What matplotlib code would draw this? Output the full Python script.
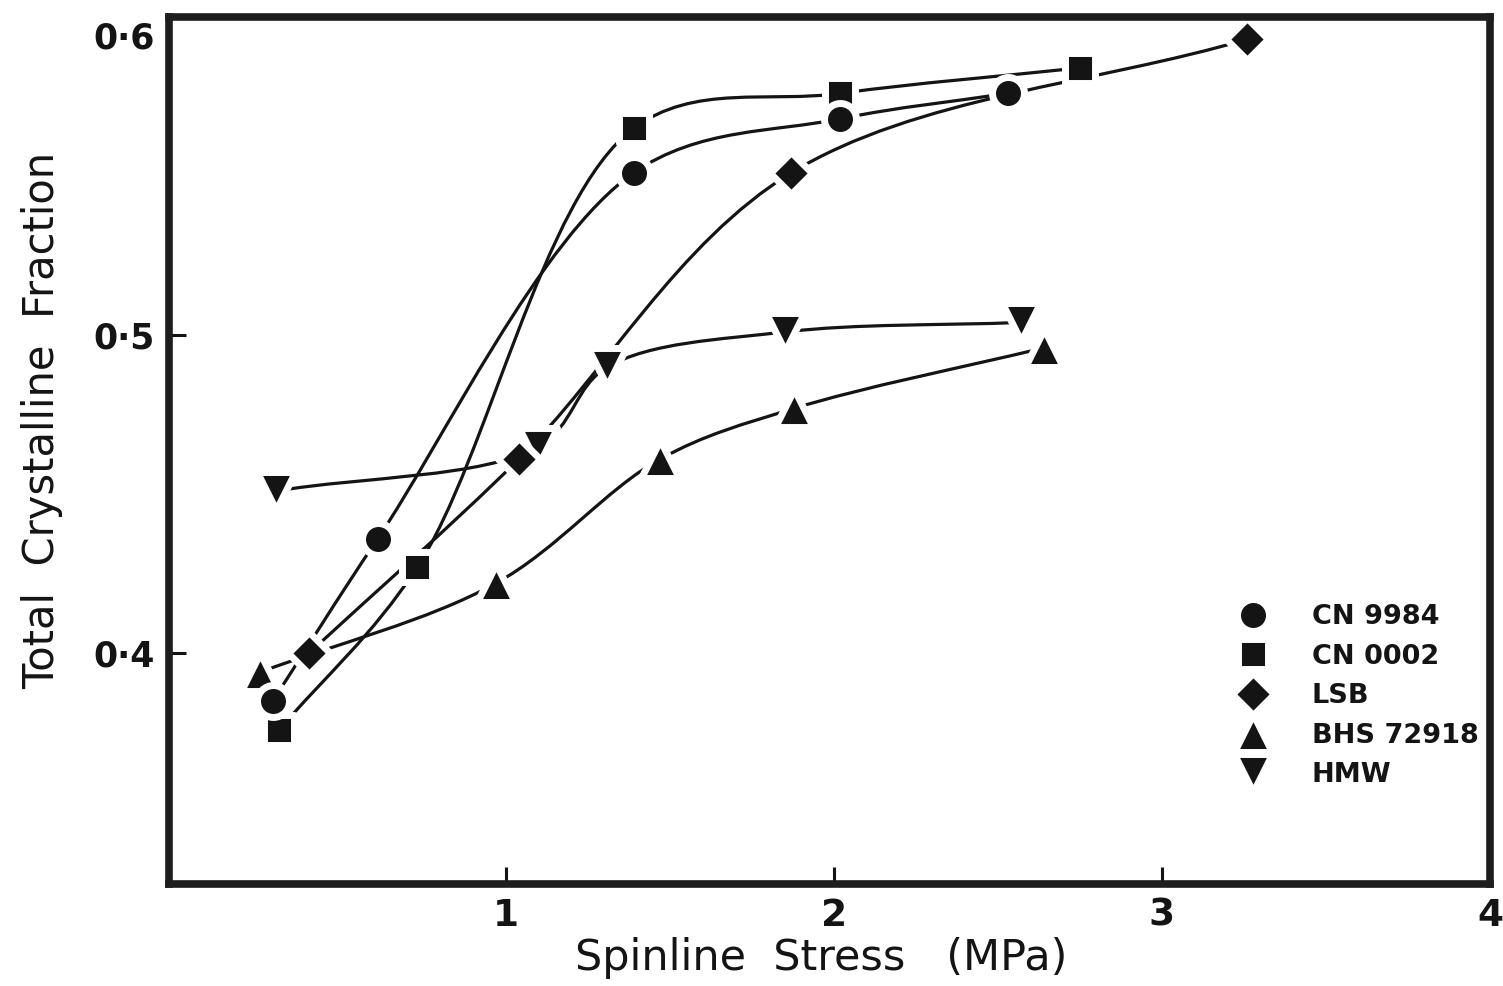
import matplotlib
matplotlib.use("Agg")
import matplotlib.pyplot as plt
import numpy as np
from matplotlib.markers import MarkerStyle
from matplotlib.path import Path
from matplotlib.patches import PathPatch
from matplotlib.transforms import ScaledTranslation

# values
cn9984_x = [0.29, 0.61, 1.39, 2.02, 2.53]
cn9984_y = [0.385, 0.436, 0.551, 0.568, 0.576]
cn0002_x = [0.31, 0.73, 1.39, 2.02, 2.75]
cn0002_y = [0.376, 0.427, 0.565, 0.576, 0.584]
lsb_x = [0.40, 1.04, 1.87, 3.26]
lsb_y = [0.400, 0.461, 0.551, 0.593]
bhs_x = [0.25, 0.97, 1.47, 1.88, 2.64]
bhs_y = [0.394, 0.422, 0.461, 0.477, 0.496]
hmw_x = [0.30, 1.10, 1.31, 1.85, 2.57]
hmw_y = [0.451, 0.465, 0.490, 0.501, 0.504]

names = ["CN 9984", "CN 0002", "LSB", "BHS 72918", "HMW"]
xticks = [1, 2, 3, 4]
yticks = [0.4, 0.5, 0.6]
ytick_labels = ["0\u00b74", "0\u00b75", "0\u00b76"]

ink = "#141414"

fig = plt.figure(figsize=(15.03, 9.86), dpi=100)
ax = fig.add_axes([169 / 1503, 1 - 884 / 986, (1490 - 169) / 1503, (884 - 17) / 986])
ax.set_xlim(-0.026, 4.0)
ax.set_ylim(0.3275, 0.600)


def smooth(ax, xs, ys, alpha=0.5):
    # centripetal catmull-rom through the points, done in pixel space
    pts = ax.transData.transform(np.column_stack([xs, ys]))
    p = np.vstack([2 * pts[0] - pts[1], pts, 2 * pts[-1] - pts[-2]])
    verts = [pts[0]]
    codes = [Path.MOVETO]
    for i in range(1, len(p) - 2):
        p0, p1, p2, p3 = p[i - 1], p[i], p[i + 1], p[i + 2]
        d1 = np.linalg.norm(p1 - p0) ** alpha
        d2 = np.linalg.norm(p2 - p1) ** alpha
        d3 = np.linalg.norm(p3 - p2) ** alpha
        b1 = (d1**2 * p2 - d2**2 * p0 + (2 * d1**2 + 3 * d1 * d2 + d2**2) * p1) / (3 * d1 * (d1 + d2))
        b2 = (d3**2 * p1 - d2**2 * p3 + (2 * d3**2 + 3 * d3 * d2 + d2**2) * p2) / (3 * d3 * (d3 + d2))
        verts += [b1, b2, p2]
        codes += [Path.CURVE4] * 3
    verts = ax.transData.inverted().transform(np.array(verts))
    return Path(verts, codes)


# marker, size in points (the white rim eats into it), drawing order
series = [
    (cn9984_x, cn9984_y, "o", 23.0, 3.5),
    (cn0002_x, cn0002_y, "s", 21.6, 3.4),
    (lsb_x, lsb_y, "D", 21.8, 3.3),
    (bhs_x, bhs_y, "^", 27.0, 3.2),
    (hmw_x, hmw_y, "v", 27.0, 3.1),
]

handles = []
for (xs, ys, m, ms, z), name in zip(series, names):
    ax.add_patch(PathPatch(smooth(ax, xs, ys), fill=False, edgecolor=ink,
                           linewidth=2.3, capstyle="round", zorder=2))
    h, = ax.plot(xs, ys, linestyle="none",
                 marker=MarkerStyle(m, joinstyle="round"), markersize=ms,
                 markerfacecolor=ink, markeredgecolor="white",
                 markeredgewidth=5, label=name, zorder=z)
    handles.append(h)

# axes frame, kept above the marker rims
for s in ax.spines.values():
    s.set_linewidth(5.5)
    s.set_color("#1e1e1e")
    s.set_zorder(6)

ax.set_xticks(xticks)
ax.set_xticklabels([str(t) for t in xticks])
ax.set_yticks(yticks)
ax.set_yticklabels(ytick_labels)
ax.tick_params(axis="both", direction="in", length=12, width=2.2, color=ink)
ax.tick_params(axis="x", pad=10, labelsize=27)
ax.tick_params(axis="y", pad=10, labelsize=25)
for lab in ax.get_yticklabels() + ax.get_xticklabels():
    lab.set_fontweight("bold")
    lab.set_color(ink)
# top label sits just under the frame corner
top = ax.get_yticklabels()[-1]
top.set_transform(top.get_transform() + ScaledTranslation(0, -0.18, fig.dpi_scale_trans))

ax.set_xlabel("Spinline  Stress   (MPa)", fontsize=31, color=ink, family="DejaVu Sans")
ax.xaxis.set_label_coords((821 - 169) / 1321, (884 - 958) / 867)
ax.set_ylabel("Total  Crystalline  Fraction", fontsize=30, color=ink, family="DejaVu Sans")
ax.yaxis.set_label_coords((42 - 169) / 1321, (884 - 420) / 867)
ax.xaxis.label.set_va("center")
ax.yaxis.label.set_va("center")

leg = ax.legend(handles=handles, loc="upper left", frameon=False,
                bbox_to_anchor=(1233 / 1503, 1 - 604 / 986),
                bbox_transform=fig.transFigure, borderpad=0, borderaxespad=0,
                handlelength=1.5, handletextpad=1.4, labelspacing=0.5,
                prop=dict(size=19.5, weight="bold"))
for t in leg.get_texts():
    t.set_color(ink)

fig.savefig("out.png", dpi=100)
